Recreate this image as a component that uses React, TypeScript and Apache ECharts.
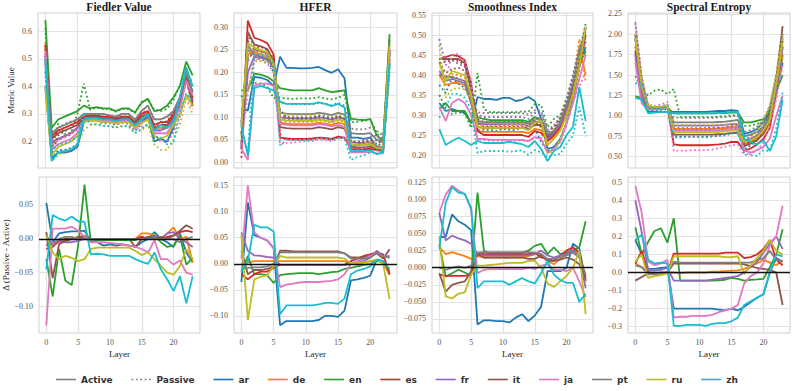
import React, { useEffect, useRef } from "react";
import * as echarts from "echarts";

const LAYERS = [0,1,2,3,4,5,6,7,8,9,10,11,12,13,14,15,16,17,18,19,20,21,22,23];
const LANGS = ["ar","de","en","es","fr","it","ja","pt","ru","zh"];
const LANG_COLORS = ["#1f77b4","#ff7f0e","#2ca02c","#d62728","#9467bd","#8c564b","#e377c2","#7f7f7f","#bcbd22","#17becf"];
const METRIC_TITLES = ["Fiedler Value","HFER","Smoothness Index","Spectral Entropy"];
const X_TICKS = [0,5,10,15,20];
const TOP_TICKS = [
  [0.2,0.3,0.4,0.5,0.6],
  [0,0.05,0.1,0.15,0.2,0.25,0.3],
  [0.2,0.25,0.3,0.35,0.4,0.45,0.5,0.55],
  [0.5,0.75,1.0,1.25,1.5,1.75,2.0,2.25],
];
const DELTA_TICKS = [
  [-0.1,-0.05,0,0.05],
  [-0.1,-0.05,0,0.05,0.1,0.15],
  [-0.075,-0.05,-0.025,0,0.025,0.05,0.075,0.1,0.125],
  [-0.3,-0.2,-0.1,0,0.1,0.2,0.3,0.4,0.5],
];

// ---------- Fiedler Value ----------
const fiedlerActive: Record<string, number[]> = {
  ar: [0.40,0.14,0.16,0.16,0.165,0.18,0.27,0.28,0.28,0.275,0.275,0.27,0.275,0.275,0.25,0.27,0.29,0.20,0.21,0.20,0.25,0.35,0.44,0.38],
  de: [0.56,0.19,0.21,0.22,0.23,0.25,0.28,0.285,0.285,0.28,0.28,0.275,0.28,0.28,0.26,0.29,0.30,0.25,0.25,0.25,0.28,0.33,0.42,0.36],
  en: [0.64,0.25,0.28,0.29,0.30,0.31,0.33,0.32,0.325,0.32,0.32,0.31,0.32,0.32,0.305,0.34,0.355,0.31,0.315,0.33,0.36,0.40,0.49,0.44],
  es: [0.55,0.22,0.24,0.25,0.26,0.27,0.29,0.295,0.295,0.29,0.29,0.285,0.29,0.29,0.27,0.30,0.31,0.26,0.27,0.27,0.30,0.35,0.43,0.35],
  fr: [0.52,0.20,0.21,0.22,0.23,0.25,0.28,0.285,0.285,0.28,0.28,0.275,0.28,0.28,0.26,0.28,0.29,0.24,0.24,0.25,0.28,0.33,0.44,0.34],
  it: [0.50,0.21,0.23,0.24,0.25,0.26,0.285,0.29,0.29,0.285,0.285,0.28,0.285,0.285,0.265,0.29,0.30,0.25,0.26,0.26,0.29,0.34,0.44,0.33],
  ja: [0.53,0.17,0.19,0.20,0.21,0.23,0.275,0.28,0.28,0.275,0.275,0.27,0.275,0.275,0.255,0.27,0.28,0.23,0.23,0.23,0.27,0.32,0.42,0.37],
  pt: [0.48,0.23,0.25,0.26,0.27,0.28,0.30,0.30,0.30,0.30,0.295,0.29,0.30,0.30,0.28,0.31,0.33,0.28,0.28,0.29,0.31,0.36,0.45,0.38],
  ru: [0.39,0.15,0.18,0.19,0.20,0.22,0.27,0.275,0.275,0.27,0.27,0.265,0.27,0.27,0.25,0.265,0.28,0.22,0.21,0.22,0.26,0.30,0.37,0.33],
  zh: [0.50,0.13,0.16,0.165,0.17,0.19,0.28,0.285,0.285,0.28,0.28,0.275,0.28,0.28,0.26,0.28,0.30,0.24,0.26,0.25,0.27,0.36,0.47,0.40],
};
const fiedlerDelta: Record<string, number[]> = {
  ar: [0.053,-0.005,0.008,0.010,0.011,0.011,0.012,-0.003,-0.005,-0.010,-0.008,-0.010,-0.008,-0.010,-0.012,-0.005,0.000,0.010,0.000,-0.005,-0.012,0.008,-0.020,-0.035],
  de: [-0.010,-0.005,-0.005,-0.003,0.000,0.003,0.005,0.000,0.000,0.000,0.000,0.000,0.000,0.000,0.000,0.008,0.008,0.005,0.000,0.008,0.017,0.000,0.003,-0.035],
  en: [-0.030,-0.085,-0.015,-0.062,-0.068,-0.010,0.080,-0.005,-0.002,-0.002,-0.002,-0.002,-0.002,-0.002,-0.002,0.003,0.000,0.005,-0.005,-0.012,-0.010,0.005,-0.038,-0.028],
  es: [-0.015,-0.012,-0.003,0.000,0.000,0.002,0.003,0.000,0.000,0.000,0.000,0.000,0.000,0.000,0.000,0.003,0.000,0.000,0.000,0.003,0.005,0.010,0.012,0.010],
  fr: [-0.010,-0.005,-0.003,-0.005,-0.005,-0.003,0.000,0.000,0.000,0.000,0.000,0.000,0.000,0.000,0.000,0.000,0.000,0.003,0.000,0.008,0.010,0.000,-0.005,-0.012],
  it: [0.010,-0.058,-0.008,-0.003,0.000,0.002,0.003,0.000,0.000,0.000,0.000,0.000,0.000,0.000,-0.012,0.000,0.003,0.000,0.003,0.000,0.005,0.012,0.020,0.015],
  ja: [-0.128,0.015,0.015,0.015,0.018,0.012,0.003,-0.005,-0.005,-0.005,-0.006,-0.007,-0.008,-0.010,-0.012,-0.015,-0.020,-0.002,-0.030,-0.030,-0.038,-0.032,-0.050,-0.053],
  pt: [0.005,-0.010,0.000,0.003,0.003,0.000,0.000,0.000,0.000,0.000,0.000,0.000,0.000,0.000,0.000,0.000,0.000,0.000,0.000,0.000,0.000,-0.005,0.000,0.003],
  ru: [0.005,-0.020,-0.030,-0.025,-0.028,-0.033,-0.030,-0.015,-0.013,-0.013,-0.013,-0.013,-0.013,-0.013,-0.018,-0.024,-0.020,-0.030,-0.040,-0.050,-0.053,-0.040,-0.015,-0.030],
  zh: [-0.045,0.035,0.030,0.027,0.033,0.026,0.025,-0.023,-0.022,-0.023,-0.025,-0.025,-0.025,-0.025,-0.030,-0.034,-0.037,-0.020,-0.045,-0.060,-0.077,-0.055,-0.095,-0.055],
};

// ---------- HFER ----------
const hferActive: Record<string, number[]> = {
  ar: [0.12,0.115,0.19,0.188,0.183,0.17,0.235,0.21,0.21,0.209,0.209,0.21,0.212,0.205,0.199,0.207,0.187,0.055,0.055,0.052,0.055,0.035,0.03,0.22],
  de: [0.06,0.24,0.245,0.24,0.235,0.21,0.088,0.086,0.085,0.085,0.085,0.085,0.088,0.086,0.083,0.088,0.085,0.04,0.038,0.038,0.04,0.03,0.028,0.23],
  en: [0.16,0.16,0.197,0.195,0.19,0.18,0.165,0.162,0.16,0.16,0.16,0.16,0.165,0.16,0.156,0.158,0.16,0.097,0.095,0.094,0.096,0.06,0.045,0.285],
  es: [0.03,0.315,0.277,0.272,0.265,0.24,0.055,0.053,0.052,0.052,0.052,0.053,0.055,0.054,0.052,0.057,0.055,0.03,0.029,0.029,0.03,0.027,0.025,0.25],
  fr: [0.03,0.2,0.235,0.232,0.228,0.21,0.1,0.098,0.097,0.097,0.097,0.097,0.1,0.098,0.095,0.1,0.097,0.045,0.043,0.043,0.045,0.035,0.033,0.24],
  it: [0.04,0.29,0.262,0.258,0.252,0.225,0.078,0.076,0.075,0.075,0.075,0.075,0.078,0.076,0.073,0.078,0.075,0.035,0.033,0.033,0.035,0.03,0.028,0.245],
  ja: [0.03,0.005,0.17,0.175,0.175,0.17,0.085,0.083,0.082,0.082,0.082,0.082,0.085,0.083,0.08,0.083,0.078,0.022,0.022,0.022,0.023,0.02,0.02,0.23],
  pt: [0.09,0.26,0.24,0.235,0.23,0.215,0.11,0.108,0.107,0.107,0.107,0.107,0.11,0.108,0.105,0.11,0.106,0.065,0.063,0.063,0.065,0.05,0.045,0.25],
  ru: [0.08,0.265,0.255,0.25,0.245,0.22,0.095,0.093,0.092,0.092,0.092,0.092,0.095,0.093,0.09,0.095,0.092,0.04,0.038,0.038,0.04,0.032,0.03,0.26],
  zh: [0.08,0.015,0.165,0.17,0.165,0.16,0.135,0.13,0.13,0.13,0.13,0.13,0.133,0.13,0.125,0.13,0.122,0.025,0.025,0.025,0.027,0.018,0.022,0.22],
};
const hferDelta: Record<string, number[]> = {
  ar: [-0.035,0.118,0.055,0.050,0.045,0.030,-0.118,-0.110,-0.110,-0.110,-0.110,-0.110,-0.108,-0.100,-0.100,-0.102,-0.090,-0.032,-0.030,-0.027,-0.023,0.008,0.005,-0.020],
  de: [0.000,0.002,0.005,0.005,0.005,0.005,0.005,0.005,0.005,0.005,0.005,0.005,0.005,0.005,0.005,0.005,0.005,0.000,0.002,0.002,0.005,0.005,0.003,-0.022],
  en: [-0.015,0.015,-0.020,-0.020,-0.022,-0.037,-0.022,-0.020,-0.019,-0.018,-0.018,-0.018,-0.020,-0.018,-0.016,-0.015,-0.010,-0.008,-0.005,-0.002,0.000,0.005,0.005,-0.015],
  es: [-0.020,-0.030,-0.020,-0.015,-0.015,-0.008,-0.002,-0.002,-0.002,-0.002,-0.002,-0.002,-0.002,-0.002,-0.002,-0.002,-0.002,0.005,0.010,0.015,0.018,0.022,0.018,-0.020],
  fr: [0.060,0.025,0.016,0.015,0.013,0.012,-0.002,-0.002,-0.002,-0.002,-0.002,-0.002,-0.002,-0.002,-0.002,-0.002,-0.002,0.000,0.003,0.005,0.012,0.025,0.015,0.012],
  it: [0.025,-0.020,-0.012,-0.012,-0.010,-0.005,0.025,0.025,0.024,0.024,0.024,0.024,0.024,0.024,0.024,0.024,0.020,0.012,0.012,0.013,0.015,0.020,0.010,0.028],
  ja: [0.010,0.150,0.060,0.050,0.045,0.030,-0.045,-0.040,-0.038,-0.036,-0.035,-0.035,-0.035,-0.034,-0.033,-0.030,-0.020,0.000,0.005,0.010,0.015,0.020,0.015,0.015],
  pt: [-0.010,-0.008,-0.007,-0.007,-0.005,0.000,0.022,0.022,0.022,0.022,0.022,0.022,0.022,0.022,0.022,0.022,0.020,0.010,0.010,0.010,0.012,0.020,0.015,0.012],
  ru: [0.055,-0.108,-0.030,-0.025,-0.022,-0.005,0.015,0.012,0.012,0.012,0.012,0.012,0.012,0.012,0.012,0.012,0.010,0.000,0.002,0.003,0.005,0.008,0.000,-0.068],
  zh: [-0.015,0.005,0.075,0.070,0.070,0.062,-0.097,-0.080,-0.080,-0.080,-0.080,-0.080,-0.078,-0.075,-0.075,-0.077,-0.067,-0.020,-0.013,-0.010,-0.005,0.008,0.005,-0.010],
};

// ---------- Smoothness Index ----------
const smoothActive: Record<string, number[]> = {
  ar: [0.33,0.31,0.315,0.31,0.305,0.28,0.345,0.34,0.34,0.338,0.343,0.343,0.335,0.338,0.345,0.335,0.29,0.215,0.22,0.24,0.28,0.34,0.42,0.47],
  de: [0.40,0.375,0.38,0.38,0.375,0.33,0.26,0.258,0.258,0.258,0.258,0.258,0.258,0.258,0.255,0.265,0.262,0.235,0.245,0.265,0.31,0.36,0.47,0.40],
  en: [0.315,0.33,0.31,0.31,0.31,0.28,0.295,0.29,0.287,0.287,0.287,0.287,0.287,0.287,0.283,0.295,0.29,0.25,0.26,0.28,0.32,0.37,0.43,0.46],
  es: [0.44,0.445,0.45,0.447,0.437,0.38,0.26,0.25,0.25,0.25,0.25,0.25,0.25,0.25,0.245,0.26,0.255,0.235,0.25,0.27,0.30,0.35,0.42,0.50],
  fr: [0.41,0.385,0.39,0.385,0.38,0.33,0.28,0.277,0.277,0.277,0.277,0.277,0.277,0.277,0.272,0.285,0.28,0.24,0.255,0.275,0.31,0.37,0.44,0.51],
  it: [0.44,0.44,0.44,0.44,0.43,0.37,0.27,0.268,0.268,0.268,0.268,0.268,0.268,0.268,0.265,0.275,0.275,0.245,0.26,0.28,0.32,0.37,0.44,0.52],
  ja: [0.32,0.285,0.33,0.34,0.33,0.30,0.24,0.24,0.238,0.238,0.238,0.238,0.238,0.238,0.235,0.245,0.24,0.205,0.215,0.235,0.28,0.33,0.39,0.45],
  pt: [0.40,0.395,0.395,0.39,0.385,0.34,0.285,0.282,0.282,0.282,0.282,0.282,0.282,0.282,0.278,0.29,0.29,0.25,0.26,0.28,0.32,0.38,0.45,0.52],
  ru: [0.43,0.385,0.41,0.405,0.40,0.35,0.27,0.268,0.268,0.268,0.268,0.268,0.268,0.268,0.262,0.28,0.285,0.225,0.24,0.26,0.30,0.35,0.42,0.52],
  zh: [0.265,0.225,0.235,0.243,0.235,0.225,0.235,0.23,0.23,0.23,0.23,0.233,0.23,0.227,0.22,0.235,0.215,0.185,0.21,0.22,0.25,0.27,0.37,0.285],
};
const smoothDelta: Record<string, number[]> = {
  ar: [0.045,0.045,0.078,0.068,0.063,0.055,-0.083,-0.077,-0.077,-0.078,-0.078,-0.080,-0.073,-0.068,-0.078,-0.070,-0.057,-0.005,-0.005,-0.005,0.000,0.035,0.028,-0.020],
  de: [0.030,0.020,0.023,0.020,0.017,0.013,0.017,0.015,0.015,0.015,0.015,0.015,0.015,0.015,0.017,0.020,0.020,0.010,0.005,0.013,0.020,0.025,0.020,-0.020],
  en: [0.035,-0.013,-0.008,-0.003,-0.007,-0.012,0.110,0.025,0.020,0.020,0.020,0.020,0.020,0.022,0.025,0.032,0.035,0.020,0.030,0.020,0.022,0.025,0.030,0.068],
  es: [-0.010,-0.012,-0.012,-0.012,-0.012,-0.010,0.022,0.020,0.020,0.020,0.020,0.020,0.020,0.020,0.020,0.022,0.015,0.013,0.010,0.018,0.025,0.030,0.022,-0.017],
  fr: [0.080,0.040,0.047,0.043,0.040,0.035,0.020,0.018,0.018,0.018,0.018,0.018,0.018,0.018,0.018,0.020,0.025,0.018,0.015,0.018,0.020,0.025,0.018,-0.030],
  it: [-0.008,-0.035,-0.025,-0.022,-0.020,-0.005,0.020,0.015,0.015,0.015,0.015,0.015,0.015,0.015,0.013,0.013,0.018,0.010,0.010,0.012,0.015,0.012,0.005,-0.012],
  ja: [0.080,0.107,0.120,0.113,0.108,0.085,-0.008,-0.003,-0.002,-0.002,-0.002,-0.002,-0.002,-0.002,0.000,-0.002,0.003,0.005,-0.003,-0.003,-0.005,0.000,-0.020,-0.043],
  pt: [0.000,-0.003,0.000,0.002,0.000,0.003,0.022,0.023,0.023,0.023,0.023,0.023,0.023,0.023,0.023,0.022,0.020,0.013,0.013,0.015,0.018,0.022,0.015,-0.010],
  ru: [0.045,-0.042,-0.045,-0.038,-0.036,-0.010,0.003,0.003,0.004,0.005,0.006,0.007,0.007,0.007,0.010,0.010,0.000,-0.023,-0.028,-0.020,-0.012,0.000,0.025,-0.068],
  zh: [0.028,0.095,0.118,0.110,0.108,0.088,-0.030,-0.020,-0.020,-0.020,-0.020,-0.025,-0.020,-0.015,-0.020,-0.023,-0.008,0.010,-0.010,-0.018,-0.022,-0.022,-0.050,-0.038],
};

// ---------- Spectral Entropy ----------
const spectralActive: Record<string, number[]> = {
  ar: [1.75,1.2,1.05,1.05,1.05,1.05,1.05,1.05,1.05,1.05,1.05,1.05,1.055,1.06,1.06,1.07,1.06,0.78,0.80,0.84,0.92,1.05,1.3,1.65],
  de: [1.65,1.3,1.1,1.1,1.1,1.12,0.84,0.84,0.84,0.84,0.84,0.84,0.84,0.845,0.85,0.86,0.86,0.65,0.68,0.72,0.78,0.9,1.25,1.75],
  en: [1.24,1.22,1.08,1.08,1.08,1.1,1.03,1.03,1.03,1.03,1.03,1.03,1.03,1.035,1.035,1.04,1.04,0.92,0.92,0.94,0.96,1.05,1.3,1.5],
  es: [1.8,1.2,1.1,1.1,1.1,1.12,0.65,0.64,0.64,0.64,0.64,0.64,0.645,0.65,0.66,0.68,0.68,0.57,0.6,0.65,0.72,0.85,1.3,1.85],
  fr: [1.75,1.25,1.1,1.1,1.1,1.12,0.88,0.88,0.88,0.88,0.88,0.88,0.88,0.885,0.89,0.9,0.9,0.7,0.72,0.76,0.83,0.95,1.3,1.85],
  it: [2.0,1.4,1.12,1.1,1.1,1.12,0.77,0.77,0.77,0.77,0.77,0.77,0.77,0.775,0.78,0.79,0.79,0.63,0.66,0.7,0.78,0.95,1.45,2.1],
  ja: [1.65,1.15,1.08,1.08,1.09,1.1,0.82,0.82,0.82,0.82,0.82,0.82,0.82,0.825,0.83,0.84,0.83,0.58,0.55,0.58,0.62,0.72,1.0,1.25],
  pt: [1.95,1.35,1.1,1.1,1.1,1.12,0.92,0.92,0.92,0.92,0.92,0.92,0.92,0.925,0.93,0.94,0.95,0.75,0.77,0.8,0.87,1.0,1.4,1.95],
  ru: [1.95,1.35,1.12,1.11,1.11,1.13,0.8,0.8,0.8,0.8,0.8,0.8,0.8,0.805,0.81,0.82,0.82,0.68,0.7,0.74,0.82,0.95,1.4,1.9],
  zh: [1.22,1.2,1.03,1.04,1.05,1.05,1.03,1.03,1.03,1.03,1.03,1.03,1.03,1.035,1.04,1.05,1.05,0.72,0.68,0.65,0.7,0.57,0.75,1.2],
};
const spectralDelta: Record<string, number[]> = {
  ar: [0.18,0.10,0.02,0.02,0.025,0.03,-0.20,-0.20,-0.20,-0.20,-0.20,-0.20,-0.20,-0.205,-0.21,-0.20,-0.21,-0.19,-0.165,-0.14,-0.12,0.00,0.08,0.06],
  de: [0.05,0.03,0.00,-0.005,-0.005,0.00,0.00,-0.005,0.00,0.00,0.00,0.00,0.005,0.005,0.008,0.01,0.012,0.02,0.035,0.05,0.07,0.055,0.04,0.07],
  en: [0.25,0.10,0.17,0.23,0.245,0.165,0.30,-0.045,-0.045,-0.045,-0.045,-0.045,-0.045,-0.043,-0.04,-0.03,-0.035,-0.045,-0.04,-0.038,-0.035,0.03,0.10,0.24],
  es: [0.05,0.12,0.00,-0.005,-0.005,0.00,0.105,0.105,0.105,0.105,0.105,0.105,0.105,0.105,0.11,0.11,0.11,0.08,0.085,0.10,0.13,0.18,0.07,0.04],
  fr: [0.40,0.22,0.01,0.01,0.015,0.025,-0.045,-0.045,-0.045,-0.045,-0.045,-0.045,-0.04,-0.035,-0.03,-0.025,-0.02,0.00,0.03,0.06,0.11,0.16,0.20,0.13],
  it: [-0.045,-0.025,-0.005,-0.005,0.00,0.00,0.05,0.05,0.05,0.05,0.05,0.05,0.05,0.05,0.05,0.05,0.05,0.045,0.035,0.025,0.02,0.015,0.00,-0.18],
  ja: [0.48,0.33,0.06,0.04,0.05,0.07,-0.25,-0.245,-0.245,-0.24,-0.24,-0.24,-0.235,-0.22,-0.21,-0.20,-0.18,-0.06,-0.02,0.00,0.05,0.15,0.20,0.37],
  pt: [0.04,0.03,-0.01,-0.01,-0.005,0.00,0.06,0.055,0.055,0.055,0.055,0.055,0.055,0.055,0.055,0.055,0.055,0.055,0.055,0.07,0.08,0.12,0.07,0.06],
  ru: [0.06,0.10,-0.03,-0.02,-0.015,-0.005,0.09,0.09,0.09,0.09,0.09,0.09,0.09,0.09,0.085,0.085,0.09,-0.01,0.04,0.08,0.12,0.18,0.12,0.10],
  zh: [0.18,0.21,0.07,0.05,0.055,0.05,-0.295,-0.295,-0.29,-0.29,-0.29,-0.295,-0.285,-0.28,-0.28,-0.27,-0.25,-0.18,-0.16,-0.14,-0.12,0.00,0.10,0.09],
};

const ACTIVE = [fiedlerActive, hferActive, smoothActive, spectralActive];
const DELTA = [fiedlerDelta, hferDelta, smoothDelta, spectralDelta];

// ---------- layout / style ----------
const COL_LEFT = [38, 234, 432, 628];
const COL_WIDTH = [162, 163, 161, 162];
const ROW_TOP = [13, 177];
const ROW_HEIGHT = [155, 156];
const X_RANGE = [-1.15, 24.15];
const TOP_RANGE = [[0.104, 0.666], [-0.0127, 0.332], [0.1675, 0.555], [0.361, 2.262]];
const DELTA_RANGE = [[-0.139, 0.0913], [-0.133, 0.1667], [-0.0955, 0.1328], [-0.335, 0.529]];
const TOP_DEC = [1, 2, 2, 2];
const DELTA_DEC = [2, 2, 3, 1];
const SERIF = "'Liberation Serif', 'DejaVu Serif', serif";
const GRID_COLOR = "#e2e2e2";
const LINE_W = 1.8;
const DOT = [1.8, 2.6];

function fmt(v: number, d: number) {
  const r = Math.abs(v) < 1e-9 ? 0 : v;
  return (r < 0 ? "\u2212" : "") + Math.abs(r).toFixed(d);
}

function buildOption() {
  const grid: any[] = [];
  const xAxis: any[] = [];
  const yAxis: any[] = [];
  const series: any[] = [];
  for (let r = 0; r < 2; r++) {
    for (let c = 0; c < 4; c++) {
      const gi = r * 4 + c;
      grid.push({
        left: COL_LEFT[c], top: ROW_TOP[r], width: COL_WIDTH[c], height: ROW_HEIGHT[r],
        show: true, borderColor: "#cfcfcf", borderWidth: 1, backgroundColor: "#ffffff",
      });
      xAxis.push({
        type: "value", gridIndex: gi, min: X_RANGE[0], max: X_RANGE[1],
        axisLine: { show: false },
        axisTick: { show: false, customValues: X_TICKS },
        axisLabel: {
          show: r === 1, customValues: X_TICKS, fontFamily: SERIF, fontSize: 8, color: "#555", margin: 5,
          formatter: (v: number) => String(v),
        },
        splitLine: { show: true, lineStyle: { color: GRID_COLOR, width: 1.2 } },
        name: r === 1 ? "Layer" : "",
        nameLocation: "middle", nameGap: 16,
        nameTextStyle: { fontFamily: SERIF, fontSize: 9, color: "#222" },
      });
      const ticks = r === 0 ? TOP_TICKS[c] : DELTA_TICKS[c];
      const range = r === 0 ? TOP_RANGE[c] : DELTA_RANGE[c];
      const dec = r === 0 ? TOP_DEC[c] : DELTA_DEC[c];
      yAxis.push({
        type: "value", gridIndex: gi, min: range[0], max: range[1],
        axisLine: { show: false },
        axisTick: { show: false, customValues: ticks },
        axisLabel: {
          customValues: ticks, fontFamily: SERIF, fontSize: 8, color: "#555", margin: 6,
          formatter: (v: number) => fmt(v, dec),
        },
        splitLine: { show: true, lineStyle: { color: GRID_COLOR, width: 1.2 } },
        name: c === 0 ? (r === 0 ? "Metric Value" : "\u0394 (Passive - Active)") : "",
        nameLocation: "middle", nameGap: r === 0 ? 23 : 29,
        nameTextStyle: { fontFamily: SERIF, fontSize: 9, color: "#222" },
      });
    }
  }

  for (let c = 0; c < 4; c++) {
    LANGS.forEach((lang, li) => {
      const act = ACTIVE[c][lang];
      const del = DELTA[c][lang];
      const color = LANG_COLORS[li];
      series.push({
        type: "line", name: lang, xAxisIndex: c, yAxisIndex: c,
        data: LAYERS.map((l, i) => [l, act[i]]),
        symbol: "none", showSymbol: false, color,
        lineStyle: { width: LINE_W, color }, emphasis: { disabled: true }, z: 2,
      });
      series.push({
        type: "line", name: lang + " passive", xAxisIndex: c, yAxisIndex: c,
        data: LAYERS.map((l, i) => [l, +(act[i] + del[i]).toFixed(4)]),
        symbol: "none", showSymbol: false, color,
        lineStyle: { width: LINE_W, color, type: DOT }, emphasis: { disabled: true }, z: 2,
      });
      series.push({
        type: "line", name: lang, xAxisIndex: 4 + c, yAxisIndex: 4 + c,
        data: LAYERS.map((l, i) => [l, del[i]]),
        symbol: "none", showSymbol: false, color,
        lineStyle: { width: LINE_W, color }, emphasis: { disabled: true }, z: 2,
      });
    });
    series.push({
      type: "line", name: "zero" + c, xAxisIndex: 4 + c, yAxisIndex: 4 + c,
      data: [[0, 0]], symbol: "none", showSymbol: false,
      lineStyle: { opacity: 0 }, z: 5, silent: true,
      markLine: {
        silent: true, symbol: ["none", "none"], label: { show: false },
        lineStyle: { color: "#111", width: 1.4, type: "solid" },
        emphasis: { disabled: true },
        data: [{ yAxis: 0 }],
      },
    });
  }

  series.push({
    type: "line", name: "Active", xAxisIndex: 0, yAxisIndex: 0, data: [],
    symbol: "none", color: "#808080", lineStyle: { width: LINE_W, color: "#808080" },
  });
  series.push({
    type: "line", name: "Passive", xAxisIndex: 0, yAxisIndex: 0, data: [],
    symbol: "none", color: "#808080", lineStyle: { width: LINE_W, color: "#808080", type: DOT },
  });

  const graphic = METRIC_TITLES.map((t, c) => ({
    type: "text",
    x: COL_LEFT[c] + COL_WIDTH[c] / 2,
    y: 7,
    style: {
      text: t, align: "center", verticalAlign: "middle",
      fontFamily: SERIF, fontWeight: "bold", fontSize: 11.5, fill: "#1a1a1a",
    },
  }));

  return {
    animation: false,
    backgroundColor: "#ffffff",
    grid, xAxis, yAxis, series, graphic,
    legend: {
      data: ["Active", "Passive", ...LANGS],
      left: "center", top: 370,
      itemWidth: 20, itemHeight: 10, itemGap: 18,
      itemStyle: { opacity: 0 },
      lineStyle: { width: 1.6 },
      textStyle: { fontFamily: "'DejaVu Sans', sans-serif", fontWeight: "bold", fontSize: 9, color: "#333" },
      selectedMode: false,
    },
  };
}

export default function App() {
  const ref = useRef<HTMLDivElement>(null);
  useEffect(() => {
    document.body.style.margin = "0";
    if (!ref.current) return;
    const chart = echarts.init(ref.current, undefined, { renderer: "svg" });
    chart.setOption(buildOption() as any);
    return () => chart.dispose();
  }, []);
  return <div ref={ref} style={{ width: 793, height: 391 }} />;
}
